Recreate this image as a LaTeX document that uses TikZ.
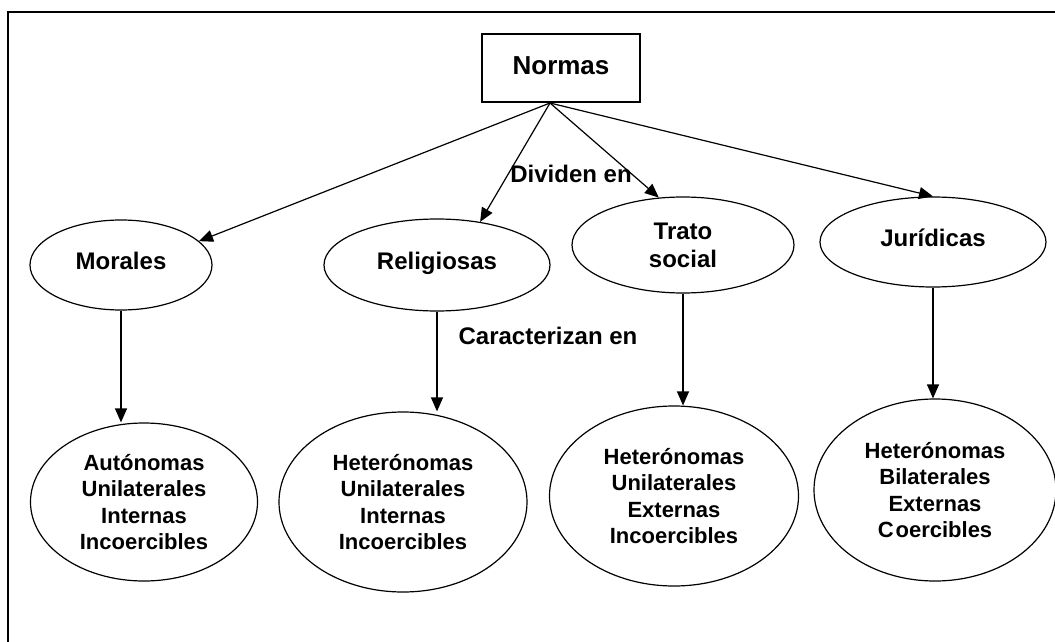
\documentclass[tikz,border=0pt]{standalone}
\usepackage{fontspec}
\setmainfont{Liberation Sans}
\usetikzlibrary{arrows.meta,shapes.geometric}
\tikzset{
	treenode/.style = {align=center, inner sep=0pt, text centered,
		font=\bfseries},
	top_n/.style = {treenode, rectangle, draw=black, line width=1.2pt,
		minimum width=158pt, minimum height=68pt,
		font=\fontsize{26}{30}\selectfont\bfseries},
	kind_e/.style = {treenode, ellipse, draw=black, line width=1.2pt,
		font=\fontsize{24}{28}\selectfont\bfseries},
	trait_e/.style = {treenode, ellipse, draw=black, line width=1.2pt,
		font=\fontsize{22}{26.5}\selectfont\bfseries},
	lbl/.style = {treenode, font=\fontsize{24}{28}\selectfont\bfseries}
}
\begin{document}
\begin{tikzpicture}[x=1pt,y=-1pt,->,>={Triangle[length=14pt,width=12pt]},line width=1.2pt]
\useasboundingbox (0,0) rectangle (1055,642);
\draw[-,line width=1.6pt] (8,12) rectangle (1070,660);
% top
\node [top_n] (normas) at (561,68) {\raisebox{4pt}{Normas}};
\coordinate (split) at (550,103);
% kinds
\node [kind_e, minimum width=182pt, minimum height=90pt] (morales) at (121,265) {\raisebox{8pt}{Morales}};
\node [kind_e, minimum width=226pt, minimum height=92pt] (relig) at (437,265) {\raisebox{8pt}{Religiosas}};
\node [kind_e, minimum width=222pt, minimum height=96pt] (trato) at (683,245) {Trato\\social};
\node [kind_e, minimum width=226pt, minimum height=90pt] (jurid) at (933,242) {\raisebox{8pt}{Jurídicas}};
% traits
\node [trait_e, minimum width=227pt, minimum height=158pt] (aut) at (144,502)
	{Autónomas\\Unilaterales\\Internas\\Incoercibles};
\node [trait_e, minimum width=248pt, minimum height=180pt] (het_a) at (403,502)
	{Heterónomas\\Unilaterales\\Internas\\Incoercibles};
\node [trait_e, minimum width=249pt, minimum height=180pt] (het_b) at (674,496)
	{Heterónomas\\Unilaterales\\Externas\\Incoercibles};
\node [trait_e, minimum width=242pt, minimum height=182pt] (het_c) at (935,490)
	{Heterónomas\\Bilaterales\\Externas\\C\kern2pt oercibles};
% labels
\node [lbl] (divid) at (571,174) {Dividen en};
\node [lbl] (caract) at (548,336) {Caracterizan en};
% arrows
\draw (split) -- (morales.17);
\draw (split) -- (relig.45);
\draw (split) -- (trato.117);
\draw (split) -- (jurid.north);
\draw (morales.south) -- (morales.south |- aut.north);
\draw (relig.south) -- (relig.south |- het_a.north);
\draw (trato.south) -- (trato.south |- het_b.north);
\draw (jurid.south) -- (jurid.south |- het_c.north);
\end{tikzpicture}
\end{document}
